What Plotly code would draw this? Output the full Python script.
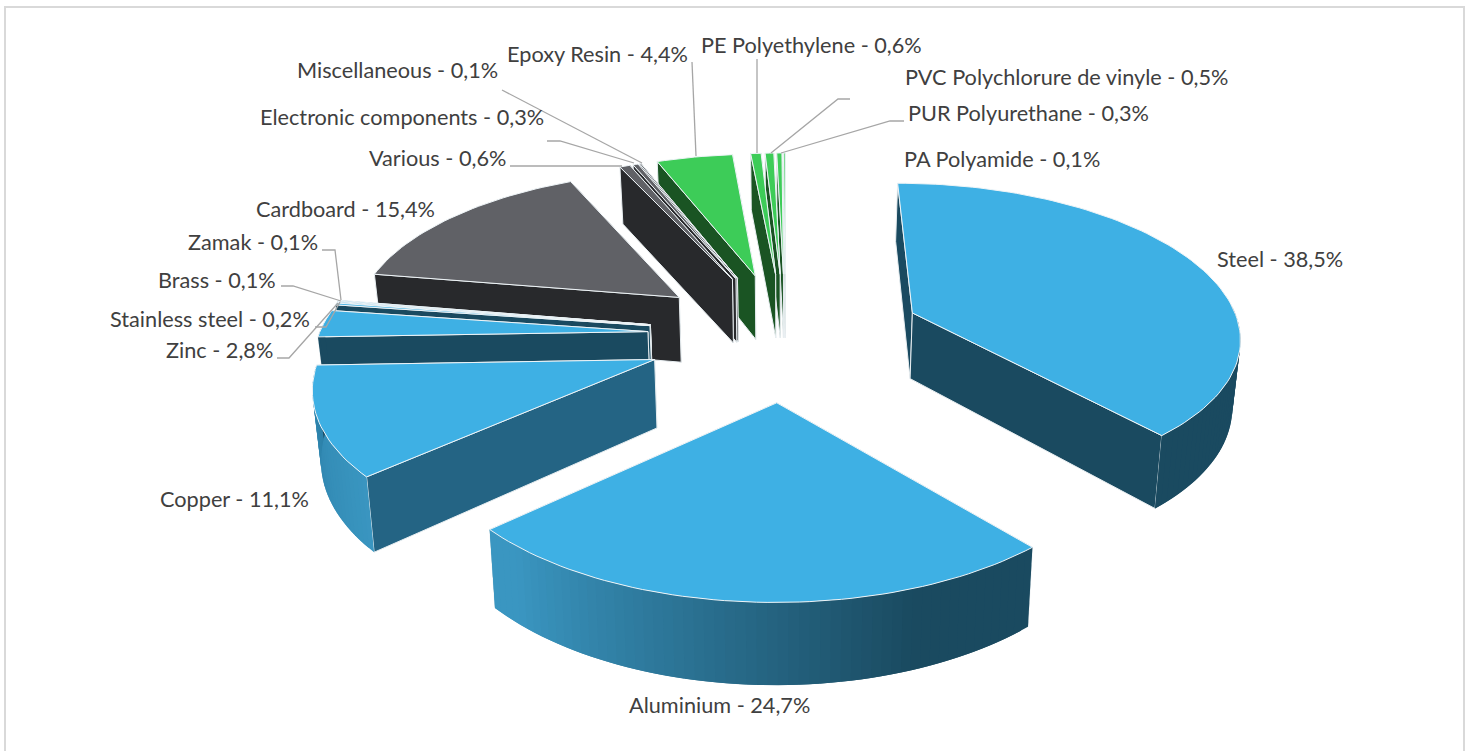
import math
import plotly.graph_objects as go

categories = ["Steel", "Aluminium", "Copper", "Zinc", "Stainless steel", "Brass", "Zamak",
              "Cardboard", "Various", "Electronic components", "Miscellaneous", "Epoxy Resin",
              "PE Polyethylene", "PVC Polychlorure de vinyle", "PUR Polyurethane", "PA Polyamide"]
shares = [38.5, 24.7, 11.1, 2.8, 0.2, 0.1, 0.1, 15.4, 0.6, 0.3, 0.1, 4.4, 0.6, 0.5, 0.3, 0.1]
share_text = ["38,5%", "24,7%", "11,1%", "2,8%", "0,2%", "0,1%", "0,1%", "15,4%", "0,6%", "0,3%",
              "0,1%", "4,4%", "0,6%", "0,5%", "0,3%", "0,1%"]
families = ["blue"] * 7 + ["grey"] * 4 + ["green"] * 5

# label anchors in pixels (layout only)
label_pos = [(1215, 259, "left"), (627, 705, "left"), (311, 499, "right"), (275, 350, "right"),
             (312, 319, "right"), (278, 280, "right"), (320, 242, "right"), (437, 209, "right"),
             (508, 158, "right"), (546, 117, "right"), (500, 70, "right"), (690, 54, "right"),
             (699, 45, "left"), (903, 77, "left"), (906, 113, "left"), (902, 159, "left")]
leaders = [
    [(322, 250), (335, 250), (341, 300)], [(281, 286), (293, 286), (341, 301)],
    [(315, 327), (326, 327), (340, 302)], [(277, 358), (289, 358), (338, 303)],
    [(510, 166), (622, 166)], [(547, 141), (560, 141), (634, 163)], [(502, 90), (642, 163)],
    [(692, 62), (696, 156)], [(757, 59), (757, 153)], [(850, 99), (838, 99), (771, 153)],
    [(904, 121), (890, 121), (781, 153)],
]

CX, CY, RX, RY, K, EXPL, DEPTH, SHRINK = 785.5, 335, 329, 152.6, 0.134, 0.42, 67, 0.982
TOP = {"blue": "#3EB0E4", "grey": "#606166", "green": "#3DCC58"}
WALL = {"blue": "#1A4A60", "grey": "#28292C", "green": "#1A5423"}


def lerp(c1, c2, t):
    t = max(0, min(1, t))
    a = [int(c1[i:i + 2], 16) for i in (1, 3, 5)]
    b = [int(c2[i:i + 2], 16) for i in (1, 3, 5)]
    return "#%02x%02x%02x" % tuple(round(p + (q - p) * t) for p, q in zip(a, b))


def project(x, y, low=False):
    s = 1 / (1 - K * y)
    px, py = CX + RX * x * s, CY + RY * y * s
    if low:
        px, py = CX + (px - CX) * SHRINK, py + DEPTH * s
    return px, py


def rim(ax, ay, deg):
    r = math.radians(deg)
    return ax + math.sin(r), ay - math.cos(r)


def outer_color(fam, deg):
    if fam != "blue" or deg < 160 or deg > 267:
        return WALL[fam]
    if deg < 227.5:
        return lerp(WALL[fam], "#3A96C1", (deg - 160) / 62)
    return lerp("#3A96C1", "#2C80A8", (deg - 227.5) / 40)


fig = go.Figure()


def poly(points, fill, line, width=1.0):
    fig.add_trace(go.Scatter(x=[p[0] for p in points] + [points[0][0]],
                             y=[p[1] for p in points] + [points[0][1]],
                             mode="lines", fill="toself", fillcolor=fill,
                             line=dict(color=line, width=width),
                             hoverinfo="skip", showlegend=False))


total = sum(shares)
slices = []
start = 0.0
for name, value, fam in zip(categories, shares, families):
    sweep = value / total * 360
    mid = math.radians(start + sweep / 2)
    ax, ay = EXPL * math.sin(mid), -EXPL * math.cos(mid)
    slices.append(dict(name=name, a0=start, a1=start + sweep, ax=ax, ay=ay, fam=fam))
    start += sweep

for sl in sorted(slices, key=lambda d: d["ay"]):
    a0, a1, ax, ay, fam = sl["a0"], sl["a1"], sl["ax"], sl["ay"], sl["fam"]
    n = max(2, int((a1 - a0) / 1.5))
    step = (a1 - a0) / n
    arc = [a0 + step * i for i in range(n + 1)]
    wall_col = "#246484" if sl["name"] == "Copper" else WALL[fam]
    walls = []
    for deg in (a0, a1):
        ex, ey = rim(ax, ay, deg)
        walls.append((ay + ey, [project(ax, ay), project(ex, ey),
                                project(ex, ey, True), project(ax, ay, True)]))
    for _, w in sorted(walls, key=lambda t: t[0]):
        poly(w, wall_col, "#E8EEF1", 1.0)
    for d0, d1 in zip(arc[:-1], arc[1:]):
        d2 = min(a1, d1 + step)  # overlap the next strip so no seams show
        x0, y0 = rim(ax, ay, d0)
        x1, y1 = rim(ax, ay, d2)
        if (y0 + y1) / 2 - ay < -0.05:
            continue
        c = outer_color(fam, (d0 + d1) / 2)
        poly([project(x0, y0), project(x1, y1), project(x1, y1, True), project(x0, y0, True)], c, c, 0)
    outline = [project(ax, ay)] + [project(*rim(ax, ay, d)) for d in arc]
    poly(outline, TOP[fam], "#EEF4F7", 1.0)

shapes = [dict(type="path", xref="x", yref="y", line=dict(color="#D9D9D9", width=2),
               path="M5,760 L5,7 L1464,7 L1464,760")]
for pts in leaders:
    path = "M" + " L".join(f"{x},{y}" for x, y in pts)
    shapes.append(dict(type="path", xref="x", yref="y", line=dict(color="#A6A6A6", width=1.3), path=path))

annotations = []
for name, txt, (x, y, side) in zip(categories, share_text, label_pos):
    annotations.append(dict(x=x, y=y, xref="x", yref="y", text=f"{name} - {txt}", showarrow=False,
                            xanchor=side, yanchor="middle",
                            font=dict(family="Lato, Carlito, sans-serif", size=21.7, color="#404040")))

fig.update_layout(width=1470, height=751, margin=dict(l=0, r=0, t=0, b=0),
                  paper_bgcolor="white", plot_bgcolor="white", showlegend=False,
                  xaxis=dict(range=[0, 1470], visible=False, fixedrange=True),
                  yaxis=dict(range=[751, 0], visible=False, fixedrange=True),
                  shapes=shapes, annotations=annotations)
fig.write_html("out.html", config=dict(displayModeBar=False),
               post_script="document.body.style.margin='0';document.body.style.overflow='hidden';")
